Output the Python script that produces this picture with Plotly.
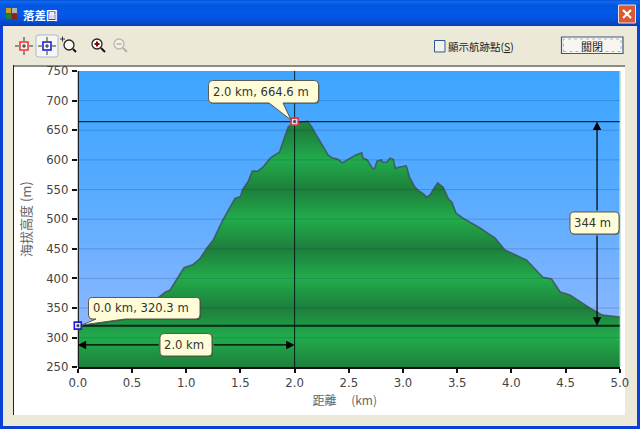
import plotly.graph_objects as go

# ---- data ----
distance_km = [0.0, 0.30, 0.48, 0.76, 0.81, 0.85, 0.92, 0.98, 1.06, 1.13, 1.19, 1.25, 1.34, 1.45, 1.50, 1.52, 1.57,
               1.61, 1.66, 1.71, 1.77, 1.79, 1.86, 1.89, 1.94, 2.0, 2.05, 2.12, 2.16, 2.19, 2.23, 2.26, 2.31, 2.35,
               2.40, 2.44, 2.49, 2.56, 2.62, 2.63, 2.67, 2.72, 2.74, 2.76, 2.80, 2.81, 2.85, 2.88, 2.91, 2.93, 2.97,
               3.03, 3.06, 3.11, 3.15, 3.18, 3.22, 3.25, 3.29, 3.32, 3.37, 3.42, 3.45, 3.49, 3.55, 3.71, 3.85, 3.94,
               4.14, 4.29, 4.37, 4.45, 4.54, 4.75, 4.84, 5.0]
elevation_m = [320.3, 329, 333, 370, 377, 380, 401, 418, 423, 434, 451, 465, 499, 535, 538, 550, 563,
               581, 581, 588, 602, 605, 613, 630, 655, 664.6, 663, 665, 655, 645, 632, 622, 608, 603,
               601, 595, 601, 608, 612, 603, 600, 585, 586, 598, 600, 596, 596, 603, 601, 586, 588,
               590, 571, 554, 547, 544, 537, 541, 553, 561, 554, 534, 529, 510, 502, 485, 468, 448,
               431, 402, 399, 377, 372, 347, 338, 335]
sky_x = [0.0, 5.0]
sky_y = [750, 750]
y_ticks = [250, 300, 350, 400, 450, 500, 550, 600, 650, 700, 750]
x_ticks = [0.0, 0.5, 1.0, 1.5, 2.0, 2.5, 3.0, 3.5, 4.0, 4.5, 5.0]
x_tick_text = ["0.0", "0.5", "1.0", "1.5", "2.0", "2.5", "3.0", "3.5", "4.0", "4.5", "5.0"]
start_point = (0.0, 320.3)
top_point = (2.0, 664.6)
dist_label = "2.0 km"
climb_label = "344 m"
start_label = "0.0 km, 320.3 m"
top_label = "2.0 km, 664.6 m"

W, H = 640, 429
BODY = "#ECE9D8"
TXT = "#444444"
AXIS_LEFT = 77.8 / W
AXIS_RIGHT = 619.8 / W
shapes, notes = [], []


def fx(px): return px / W
def fy(py): return 1 - py / H
def P(px, py): return f"{fx(px):.5f},{fy(py):.5f}"


def rect(x0, y0, x1, y1, fill, line=None, lw=1, layer="below", dash="solid"):
    shapes.append(dict(type="rect", xref="paper", yref="paper", x0=fx(x0), x1=fx(x1), y0=fy(y1), y1=fy(y0),
                       fillcolor=fill, layer=layer,
                       line=dict(color=line or "rgba(0,0,0,0)", width=lw if line else 0, dash=dash)))


def seg(x0, y0, x1, y1, color, lw=1, layer="below"):
    shapes.append(dict(type="line", xref="paper", yref="paper", x0=fx(x0), x1=fx(x1), y0=fy(y0), y1=fy(y1),
                       line=dict(color=color, width=lw), layer=layer))


def circ(cx, cy, r, fill, line, lw=1.5, layer="below"):
    shapes.append(dict(type="circle", xref="paper", yref="paper", x0=fx(cx - r), x1=fx(cx + r), y0=fy(cy + r),
                       y1=fy(cy - r), fillcolor=fill, line=dict(color=line, width=lw), layer=layer))


def poly(d, fill, line=None, lw=1, layer="above"):
    shapes.append(dict(type="path", path=d, xref="paper", yref="paper", fillcolor=fill,
                       line=dict(color=line or "rgba(0,0,0,0)", width=lw if line else 0), layer=layer))


def label(px, py, text, size=12, color=TXT, family="DejaVu Sans", anchor="center"):
    notes.append(dict(xref="paper", yref="paper", x=fx(px), y=fy(py), text=text, showarrow=False, xanchor=anchor,
                      yanchor="middle", font=dict(size=size, color=color, family=family)))


def bubble(x0, y0, x1, y1, text, tail=None, r=4):
    def outline(dx=0, dy=0):
        a = [f"M{P(x0 + r + dx, y0 + dy)}", f"L{P(x1 - r + dx, y0 + dy)}",
             f"Q{P(x1 + dx, y0 + dy)} {P(x1 + dx, y0 + r + dy)}", f"L{P(x1 + dx, y1 - r + dy)}",
             f"Q{P(x1 + dx, y1 + dy)} {P(x1 - r + dx, y1 + dy)}"]
        if tail:
            a += [f"L{P(tail[3] + dx, y1 + dy)}", f"L{P(tail[0] + dx, tail[1] + dy)}", f"L{P(tail[2] + dx, y1 + dy)}"]
        a += [f"L{P(x0 + r + dx, y1 + dy)}", f"Q{P(x0 + dx, y1 + dy)} {P(x0 + dx, y1 - r + dy)}",
              f"L{P(x0 + dx, y0 + r + dy)}", f"Q{P(x0 + dx, y0 + dy)} {P(x0 + r + dx, y0 + dy)}", "Z"]
        return " ".join(a)
    poly(outline(1, 1), "rgba(0,0,0,0.25)")
    poly(outline(), "#FFFCD8", "#5A5A50", 1)
    label(x0 + 2.2, (y0 + y1) / 2, text, size=11.6, color="#333333", anchor="left")


def target(cx, cy, color, layer="below"):
    for a in (-9, 5):
        seg(cx + a, cy, cx + a + 4, cy, "#333333", 1, layer)
        seg(cx, cy + a, cx, cy + a + 4, "#333333", 1, layer)
    rect(cx - 4, cy - 4, cx + 4, cy + 4, "rgba(255,255,255,0.6)", color, 1.5, layer)
    seg(cx - 2, cy, cx + 2, cy, "#222222", 1, layer)
    seg(cx, cy - 2, cx, cy + 2, "#222222", 1, layer)


def point_box(pt, half, fill, line, lw, on_edge=False):
    # anchored to the data point; the start point sits on the axis and must not be clipped by the plot area
    xref, xpos = ("paper", AXIS_LEFT) if on_edge else ("x", pt[0])
    shapes.append(dict(type="rect", xref=xref, yref="y", xsizemode="pixel", ysizemode="pixel",
                       xanchor=xpos, yanchor=pt[1], x0=-half, x1=half, y0=-half, y1=half, layer="above",
                       fillcolor=fill, line=dict(color=line, width=lw)))


# ---- window chrome ----
rect(0, 0, 640, 429, BODY)
rect(0, 25, 3, 429, "#0A3FD8")
rect(637, 25, 640, 429, "#0A3FD8")
rect(0, 426, 640, 429, "#0A3FD8")
title_rows = ["#0A57D8", "#0A6BF0", "#0A66EE", "#0760EA", "#0458E4", "#0355E0", "#0355E0", "#0355E2", "#0356E4",
              "#0357E6", "#0357E6", "#0358E8", "#0358E8", "#0358E8", "#0357E6", "#0356E4", "#0355E2", "#0354E0",
              "#0352DE", "#0350DA", "#034ED6", "#034CD2", "#0349CC", "#0346C6", "#0344C0", "#023CB0"]
for i, c in enumerate(title_rows):
    rect(0, i, 640, i + 1, c)
rect(6, 8, 11, 13, "#C8A020")
rect(12, 8, 17, 13, "#B0B0B0")
rect(6, 14, 11, 19, "#208040")
rect(12, 14, 17, 19, "#902020")
label(20.5, 15, "<b>落差圖</b>", size=11.5, color="white", family="Noto Sans CJK TC", anchor="left")
rect(618.5, 5, 635.5, 23, "#DA5A35", "#F0E0D8", 1)
seg(623, 10, 631, 18, "white", 2.2)
seg(631, 10, 623, 18, "white", 2.2)

target(24, 46, "#E83030")
poly(" ".join([f"M{P(39, 35)}", f"L{P(56, 35)}", f"Q{P(58, 35)} {P(58, 37)}", f"L{P(58, 55)}", f"Q{P(58, 57)} {P(56, 57)}",
               f"L{P(39, 57)}", f"Q{P(36, 57)} {P(36, 55)}", f"L{P(36, 37)}", f"Q{P(36, 35)} {P(39, 35)}", "Z"]),
     "#F6F6F2", "#A8B8D0", 1, "below")
target(47, 46, "#1010E0")
circ(69, 45, 5, "rgba(255,255,255,0.7)", "#222222", 1.3)
seg(73, 49, 76, 52, "#111111", 2)
seg(60, 39, 65, 39, "#333333", 1)
seg(62.5, 36.5, 62.5, 41.5, "#333333", 1)
circ(97, 44, 5, "white", "#222222", 1.3)
seg(94.5, 44, 99.5, 44, "#900000", 2)
seg(97, 41.5, 97, 46.5, "#900000", 2)
seg(101, 48, 105, 52, "#111111", 2)
circ(119, 44, 5, "#F2F0E6", "#B8B8B0", 1.3)
seg(116.5, 44, 121.5, 44, "#B0B0A8", 1.5)
seg(123, 48, 127, 52, "#B0B0A8", 2)

rect(434.5, 40.5, 445, 52, "#F2F2EA", "#2A5A90", 1)
label(445.5, 47, "顯示航跡點(<u>S</u>)", size=10.5, color="#222222", family="Noto Sans CJK TC", anchor="left")
rect(561.5, 37, 623, 53.5, "#F7F6F0", "#3A5A80", 1.2)
rect(563.5, 39, 621, 51.5, "rgba(0,0,0,0)", "#8A8A8A", 0.6, dash="dot")
label(592, 45.5, "關閉", size=11, color="#222222", family="Noto Sans CJK TC")

# chart panel
rect(13, 66, 625, 415, "white")
rect(13, 65, 625, 67, "#8C8C84")
seg(13.5, 65, 13.5, 415, "#222222", 1)
seg(620.5, 71, 620.5, 367, "#CFE8D8", 1)

# ---- chart overlays in data coordinates ----
for v in y_ticks[1:-1]:
    shapes.append(dict(type="line", xref="x", yref="y", x0=0, x1=5, y0=v, y1=v, layer="above",
                       line=dict(color="rgba(20,50,80,0.22)", width=1)))
for v, w in ((top_point[1], 1.2), (start_point[1], 2)):
    shapes.append(dict(type="line", xref="x", yref="y", x0=0, x1=5, y0=v, y1=v, layer="above",
                       line=dict(color="rgba(0,20,20,0.85)", width=w)))
shapes.append(dict(type="line", xref="x", yref="y", x0=top_point[0], x1=top_point[0], y0=250, y1=750, layer="above",
                   line=dict(color="rgba(0,20,20,0.9)", width=1)))
shapes.append(dict(type="line", xref="x", yref="y", x0=0, x1=0, y0=250, y1=750, layer="above",
                   line=dict(color="#111111", width=2.2)))

point_box(top_point, 3.5, "rgba(255,255,255,0.8)", "#E83040", 1.6)
point_box(top_point, 1, "#333333", "#333333", 0.5)
point_box(start_point, 3.5, "rgba(255,255,255,0.85)", "#1818E0", 1.6, on_edge=True)
point_box(start_point, 1, "#333333", "#333333", 0.5, on_edge=True)

arrow_y = 287.7
arrow_x = 4.79
dist_gap = (0.76, 1.24)
climb_gap = (512, 475)
for (a, b, c, d) in ((start_point[0], arrow_y, dist_gap[0], arrow_y),
                     (top_point[0], arrow_y, dist_gap[1], arrow_y),
                     (arrow_x, top_point[1], arrow_x, climb_gap[0]),
                     (arrow_x, start_point[1], arrow_x, climb_gap[1])):
    notes.append(dict(xref="x", yref="y", axref="x", ayref="y", x=a, y=b, ax=c, ay=d, text="", showarrow=True,
                      arrowhead=2, arrowsize=1.4, arrowwidth=1.2, arrowcolor="black"))

bubble(208.5, 80.5, 318.5, 103, top_label, tail=(291, 120, 269, 283))
bubble(88.5, 297.5, 200, 319, start_label, tail=(82, 325, 96, 125))
bubble(160, 333.5, 212, 356, dist_label)
bubble(570, 212, 619, 234, climb_label)

# ---- figure ----
fig = go.Figure()
fig.add_trace(go.Scatter(x=sky_x, y=sky_y, mode="none", fill="tozeroy", hoverinfo="skip", showlegend=False,
                         fillgradient=dict(type="vertical", start=750, stop=250,
                                           colorscale=[[0, "#3CA5FF"], [0.4, "#56ABFF"], [1, "#9CBBFF"]])))
bands = []
for i, t in enumerate(sorted(y_ticks, reverse=True)):
    bands.append([i / (len(y_ticks) - 1), "#1D7F3B" if t % 100 else "#22AC4C"])
fig.add_trace(go.Scatter(x=distance_km, y=elevation_m, mode="lines", fill="tozeroy", hoverinfo="skip", showlegend=False,
                         line=dict(color="rgba(60,85,90,0.85)", width=1.6),
                         fillgradient=dict(type="vertical", start=750, stop=250, colorscale=bands)))

tick_font = dict(family="DejaVu Sans", size=11.7, color=TXT)
fig.update_layout(
    width=W, height=H, margin=dict(l=0, r=0, t=0, b=0), autosize=False,
    paper_bgcolor=BODY, plot_bgcolor="rgba(0,0,0,0)", showlegend=False,
    shapes=shapes, annotations=notes,
    xaxis=dict(domain=[AXIS_LEFT, AXIS_RIGHT], range=[0, 5], tickvals=x_ticks, ticktext=x_tick_text, showgrid=False,
               zeroline=False, showline=True, linecolor="#111111", linewidth=2, ticks="outside", ticklen=4,
               tickwidth=1.5, tickcolor="#111111", tickfont=tick_font, layer="above traces", automargin=False,
               title=dict(text="距離 　(km)&nbsp;&nbsp;&nbsp;", standoff=7,
                          font=dict(family="Noto Sans CJK TC", size=12, color="#666666"))),
    yaxis=dict(domain=[1 - 367.3 / H, 1 - 71 / H], range=[250, 750], tickvals=y_ticks, showgrid=False, zeroline=False,
               showline=False, ticks="outside", ticklen=5, tickwidth=1.5, ticklabelstandoff=1,
               tickcolor="#111111", tickfont=tick_font, layer="above traces", automargin=False,
               title=dict(text="海拔高度 (m)", standoff=11, font=dict(family="Noto Sans CJK TC", size=13, color="#666666"))),
)
fig.write_html("out.html", config=dict(displayModeBar=False),
               post_script="document.body.style.margin='0';document.documentElement.style.overflow='hidden';")
